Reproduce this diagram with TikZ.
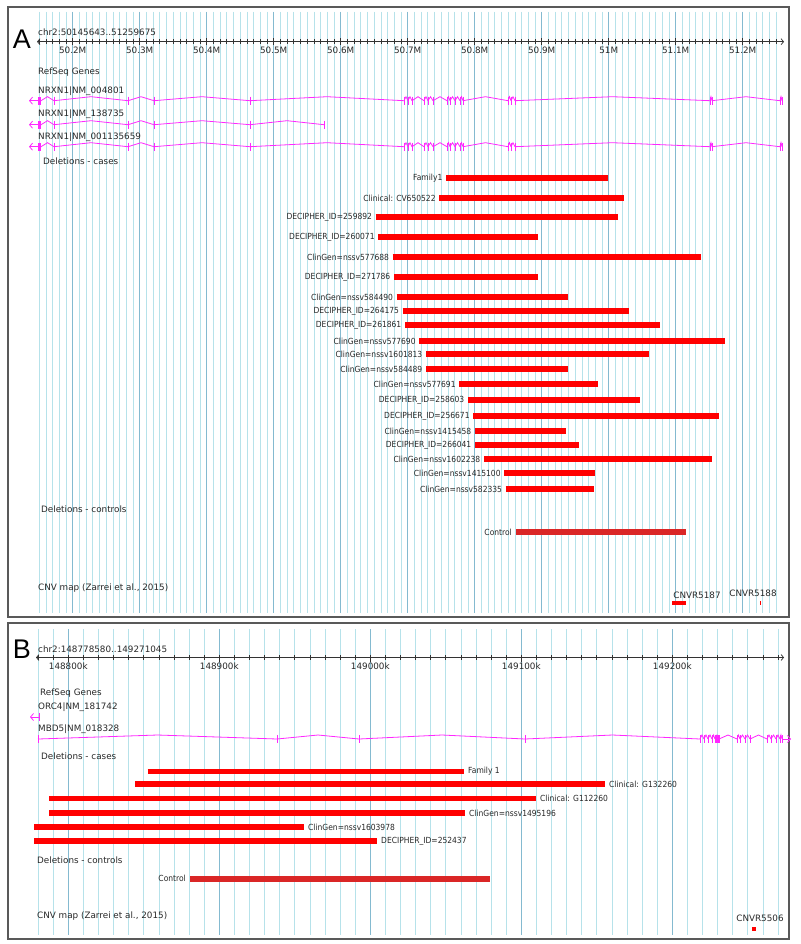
\documentclass[tikz,border=0pt]{standalone}
\usepackage{fontspec}
\setmainfont{DejaVu Sans}
\newfontfamily\narrowfont{DejaVu Sans}[FakeStretch=0.9]
\newfontfamily\panelfont{Liberation Sans}
\usepackage{tikz}
\usetikzlibrary{arrows.meta,positioning}
\definecolor{gridminor}{RGB}{182,226,234}
\definecolor{gridmajor}{RGB}{132,186,208}
\definecolor{genemag}{RGB}{255,40,255}
\definecolor{delred}{RGB}{255,0,0}
\definecolor{ctrlred}{RGB}{218,38,38}
\definecolor{tracktext}{RGB}{40,40,40}

\begin{document}
\begin{tikzpicture}[x=1pt, y=-1pt,
  track/.style={font=\fontsize{8.8}{10}\selectfont, text=tracktext, inner sep=0pt, anchor=west},
  ticklabel/.style={font=\fontsize{8.8}{10}\selectfont, text=tracktext, inner sep=0pt},
  barlabel/.style={font=\narrowfont\fontsize{8.4}{10}\selectfont, text=tracktext, inner sep=0pt},
  panelletter/.style={font=\panelfont\fontsize{27}{27}\selectfont, inner sep=0pt},
  minorline/.style={gridminor, line width=0.7pt},
  majorline/.style={gridmajor, line width=0.8pt},
  ruler/.style={black!80, line width=0.7pt},
  gene/.style={genemag, line width=0.8pt},
  delbar/.style={delred, line width=5.5pt},
  ctrlbar/.style={ctrlred, line width=5.5pt},
  panel/.style={draw=black!65, line width=1.2pt}]

  \useasboundingbox (0,0) rectangle (800,944);
  \fill[white] (0,0) rectangle (800,944);

  % ---------------- Panel A: chr2:50145643..51259675 ----------------
  \def\xA{72.7} % x of 50.2M
  \def\dA{6.7}  % px per 10 kb

  % Grid lines
  \foreach \k in {-5,...,105} {
    \draw[minorline] ({\xA+\dA*\k},12) -- ({\xA+\dA*\k},613);
  }
  \foreach \k in {0,10,...,100} {
    \draw[majorline] ({\xA+\dA*\k},12) -- ({\xA+\dA*\k},613);
  }
  \draw[panel] (8,7) rectangle (789,617);
  \node[panelletter] (panelA) at (22,39.5) {A};

  % Ruler
  \node[track] (chrA) at (38,32) {chr2:50145643..51259675};
  \draw[ruler, {Straight Barb[length=2.5pt,width=6pt]}-{Straight Barb[length=2.5pt,width=6pt]}]
    (37,41.7) -- (784,41.7);
  \foreach \k in {-5,...,105} {
    \draw[ruler] ({\xA+\dA*\k},39.2) -- ++(0,5);
  }
  \foreach \k/\t in {0/50.2M,10/50.3M,20/50.4M,30/50.5M,40/50.6M,50/50.7M,
                     60/50.8M,70/50.9M,80/51M,90/51.1M,100/51.2M} {
    \draw[ruler] ({\xA+\dA*\k},38.5) -- ++(0,7);
    \node[ticklabel] (tickA\k) at ({\xA+\dA*\k},50.5) {\t};
  }

  % RefSeq genes
  \node[track] (refA) at (38,72) {RefSeq Genes};
  \node[track] (txA1) at (38,91) {NRXN1|NM\_004801};
  \node[track] (txA2) at (38,114) {NRXN1|NM\_138735};
  \node[track] (txA3) at (38,137) {NRXN1|NM\_001135659};
  \foreach \y in {100.7,124.7,146.7} {
    \draw[gene, -{Straight Barb[length=3pt,width=7pt]}] (38,\y) -- (29,\y);
    \fill[genemag] (38,\y-4) rectangle (41,\y+4);
  }
  % full-length transcripts
  \foreach \y in {100.7,146.7} {
    \foreach \x [remember=\x as \lx (initially 41)] in
        {54,128,154,250,404,408,412,424,428,433,447,450,455,460,463,508,511,515,710,712,780,782} {
      \draw[gene] (\lx,\y) -- ({(\lx+\x)/2},\y-4) -- (\x,\y);
      \draw[gene] (\x,\y-4) -- (\x,\y+4);
    }
  }
  % short transcript
  \foreach \x [remember=\x as \lx (initially 41)] in {54,128,154,250,324} {
    \draw[gene] (\lx,124.7) -- ({(\lx+\x)/2},120.7) -- (\x,124.7);
    \draw[gene] (\x,120.7) -- (\x,128.7);
  }

  % Deletions - cases
  \node[track] (casesA) at (43,161) {Deletions - cases};
  \foreach \y/\s/\e/\t [count=\i] in {
      178/446/608/Family1,
      198/439.3/624/Clinical: CV650522,
      217/375.7/618/DECIPHER\_ID=259892,
      237/378.3/538/DECIPHER\_ID=260071,
      257/392.7/701/ClinGen=nssv577688,
      277/394/538/DECIPHER\_ID=271786,
      297/396.7/568/ClinGen=nssv584490,
      311/402.7/629/DECIPHER\_ID=264175,
      325/405/660/DECIPHER\_ID=261861,
      341/419.3/725/ClinGen=nssv577690,
      354/426/649/ClinGen=nssv1601813,
      369/426/568/ClinGen=nssv584489,
      384/459.3/598/ClinGen=nssv577691,
      400/468/640/DECIPHER\_ID=258603,
      416/473.3/719/DECIPHER\_ID=256671,
      431/475/566/ClinGen=nssv1415458,
      445/475/579/DECIPHER\_ID=266041,
      459/484/712/ClinGen=nssv1602238,
      473/504.3/595/ClinGen=nssv1415100,
      489/505.7/594/ClinGen=nssv582335} {
    \draw[delbar] (\s,\y) -- (\e,\y);
    \node[barlabel, anchor=east] (caseA\i) at (\s-3.5,\y) {\t};
  }

  % Deletions - controls
  \node[track] (ctrlsA) at (41,509) {Deletions - controls};
  \draw[ctrlbar] (516,532) -- (686,532);
  \node[barlabel, anchor=east] (ctrlA) at (512,532) {Control};

  % CNV map
  \node[track] (cnvA) at (38,588) {CNV map (Zarrei et al., 2015)};
  \node[ticklabel] (cnvr5187) at (697,595) {CNVR5187};
  \fill[delred] (672,601) rectangle (686,605);
  \node[ticklabel] (cnvr5188) at (753,593) {CNVR5188};
  \fill[delred] (759.5,601) rectangle (761,605);

  % ---------------- Panel B: chr2:148778580..149271045 ----------------
  \def\xB{68.3} % x of 148800k
  \def\dB{15.1} % px per 10 kb

  % Grid lines
  \foreach \k in {-2,...,47} {
    \draw[minorline] ({\xB+\dB*\k},629) -- ({\xB+\dB*\k},935);
  }
  \foreach \k in {0,10,...,40} {
    \draw[majorline] ({\xB+\dB*\k},629) -- ({\xB+\dB*\k},935);
  }
  \draw[panel] (8,623) rectangle (789,939);
  \node[panelletter] (panelB) at (22,649.5) {B};

  % Ruler
  \node[track] (chrB) at (38,649) {chr2:148778580..149271045};
  \draw[ruler, {Straight Barb[length=2.5pt,width=6pt]}-{Straight Barb[length=2.5pt,width=6pt]}]
    (36,657.5) -- (784,657.5);
  \foreach \k in {-2,...,47} {
    \draw[ruler] ({\xB+\dB*\k},655) -- ++(0,5);
  }
  \foreach \k/\t in {0/148800k,10/148900k,20/149000k,30/149100k,40/149200k} {
    \draw[ruler] ({\xB+\dB*\k},654.5) -- ++(0,7);
    \node[ticklabel] (tickB\k) at ({\xB+\dB*\k},666.5) {\t};
  }

  % RefSeq genes
  \node[track] (refB) at (40,693) {RefSeq Genes};
  \node[track] (txB1) at (38,707) {ORC4|NM\_181742};
  \draw[gene, -{Straight Barb[length=3pt,width=7pt]}] (39,717) -- (30,717);
  \draw[gene] (39,713) -- (39,721);
  \node[track] (txB2) at (38,729) {MBD5|NM\_018328};
  \draw[gene] (38,735) -- (38,743);
  \fill[genemag] (715,735) rectangle (719,743);
  \foreach \x [remember=\x as \lx (initially 38)] in
      {277,359,525,700,704,708,712,715,719,737,740,745,750,767,771,776,780,782} {
    \draw[gene] (\lx,739) -- ({(\lx+\x)/2},735) -- (\x,739);
    \draw[gene] (\x,735) -- (\x,743);
  }
  \draw[gene, -{Straight Barb[length=3pt,width=7pt]}] (782,739) -- (791,739);

  % Deletions - cases
  \node[track] (casesB) at (41,756) {Deletions - cases};
  \foreach \y/\s/\e/\t [count=\i] in {
      771.6/147.7/464/Family 1,
      784/135/605/Clinical: G132260,
      798.5/49/536/Clinical: G112260,
      813/49/465/ClinGen=nssv1495196,
      827/34/304/ClinGen=nssv1603978,
      841/34/377/DECIPHER\_ID=252437} {
    \draw[delbar] (\s,\y) -- (\e,\y);
    \node[barlabel, anchor=west] (caseB\i) at (\e+4,\y) {\t};
  }

  % Deletions - controls
  \node[track] (ctrlsB) at (37,860) {Deletions - controls};
  \draw[ctrlbar] (190,879) -- (490,879);
  \node[barlabel, anchor=east] (ctrlB) at (186,878) {Control};

  % CNV map
  \node[track] (cnvB) at (37,916) {CNV map (Zarrei et al., 2015)};
  \node[ticklabel] (cnvr5506) at (760,918.6) {CNVR5506};
  \fill[delred] (752,927) rectangle (756,931);
\end{tikzpicture}
\end{document}
